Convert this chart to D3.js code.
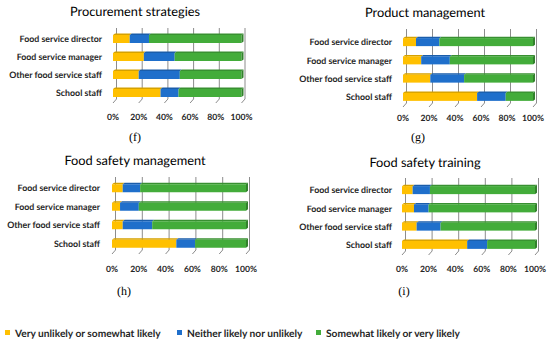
<!DOCTYPE html>
<html><head><meta charset="utf-8">
<script src="https://cdn.jsdelivr.net/npm/d3@7"></script>
<style>
html,body{margin:0;padding:0;background:#fff;}
svg{display:block;text-rendering:geometricPrecision;}
</style></head>
<body>
<svg id="chart" width="550" height="346"></svg>
<script>
const categories = ["Food service director","Food service manager","Other food service staff","School staff"];
const seriesNames = ["Very unlikely or somewhat likely","Neither likely nor unlikely","Somewhat likely or very likely"];
const seriesColors = ["#FFC000","#1F6FCB","#43AC3A"];
const ticks = [0,20,40,60,80,100];
const tickLabels = ["0%","20%","40%","60%","80%","100%"];

const procurementUnlikely = [13,24,20,37];
const procurementNeither  = [15,24,32,14];
const procurementLikely   = [72,52,48,49];

const productUnlikely = [10,14,21,57];
const productNeither  = [18,22,26,22];
const productLikely   = [72,64,53,21];

const safetyMgmtUnlikely = [8,6,8,48];
const safetyMgmtNeither  = [13,14,22,14];
const safetyMgmtLikely   = [79,80,70,38];

const trainingUnlikely = [8,9,11,49];
const trainingNeither  = [13,11,18,15];
const trainingLikely   = [79,80,71,36];

const panels = [
  {title:"Procurement strategies", tag:"(f)", data:[procurementUnlikely,procurementNeither,procurementLikely],
   x0:113, x1:241.5, rowTop:30, rowBottom:102, gridTop:28, titleX:135, titleY:16, tickY:120, labelX:102, tagX:135, tagY:141},
  {title:"Product management", tag:"(g)", data:[productUnlikely,productNeither,productLikely],
   x0:403, x1:533, rowTop:33, rowBottom:106, gridTop:29, titleX:425, titleY:17, tickY:121, labelX:392, tagX:418, tagY:141},
  {title:"Food safety management", tag:"(h)", data:[safetyMgmtUnlikely,safetyMgmtNeither,safetyMgmtLikely],
   x0:112, x1:246, rowTop:179, rowBottom:253, gridTop:177, titleX:135, titleY:165, tickY:272, labelX:100, tagX:124, tagY:295},
  {title:"Food safety training", tag:"(i)", data:[trainingUnlikely,trainingNeither,trainingLikely],
   x0:402, x1:535, rowTop:181, rowBottom:254, gridTop:178, titleX:425, titleY:167, tickY:272, labelX:392, tagX:404, tagY:295}
];

const svg = d3.select("#chart");
const dx = 3.5, dy = -4;
const barH = 8;
const sans = "Lato, 'Open Sans', sans-serif";

function fitSize(str, weight, target) {
  const t = svg.append("text").attr("font-family",sans).attr("font-weight",weight).text(str);
  let best = 10, bestErr = Infinity;
  for (let s = 7; s <= 16; s += 0.1) {
    t.attr("font-size", s + "px");
    const w = t.node().getBBox().width;
    const e = Math.abs(w - target);
    if (e < bestErr) { bestErr = e; best = s; }
  }
  t.remove();
  return best;
}
const catSize = fitSize("Other food service staff","bold",93);
const tickSize = fitSize("100%","bold",22);
const legSize = fitSize("Very unlikely or somewhat likely","bold",147);
const titleSize = fitSize("Procurement strategies","normal",130);

panels.forEach(p => {
  const g = svg.append("g");
  const x = d3.scaleLinear().domain([0,100]).range([p.x0,p.x1]);
  const y = d3.scalePoint().domain(categories).range([p.rowTop,p.rowBottom]).padding(0.5);
  const floorY = p.rowBottom + 1;

  g.selectAll("path.grid").data(ticks).enter().append("path")
    .attr("d", v => `M${x(v)+dx},${p.gridTop} L${x(v)+dx},${floorY+dy} L${x(v)},${floorY}`)
    .attr("fill","none").attr("stroke","#8c8c8c").attr("stroke-width",1);

  categories.forEach((c,i) => {
    let acc = 0;
    p.data.forEach((arr,s) => {
      const v = arr[i];
      const xs = x(acc), xe = x(acc+v);
      const yc = y(c);
      const col = d3.color(seriesColors[s]);
      g.append("path")
        .attr("d", `M${xs},${yc-barH/2} L${xs+2},${yc-barH/2-1.5} L${xe+2},${yc-barH/2-1.5} L${xe},${yc-barH/2} Z`)
        .attr("fill", col.darker(0.5));
      g.append("rect").attr("x",xs).attr("y",yc-barH/2).attr("width",xe-xs).attr("height",barH)
        .attr("fill", seriesColors[s]);
      if (s === p.data.length-1) {
        g.append("path")
          .attr("d", `M${xe},${yc-barH/2} L${xe+2},${yc-barH/2-1.5} L${xe+2},${yc+barH/2-1.5} L${xe},${yc+barH/2} Z`)
          .attr("fill", col.darker(0.8));
      }
      acc += v;
    });
  });

  g.selectAll("text.cat").data(categories).enter().append("text")
    .attr("x", p.labelX).attr("y", d => y(d)+3.2)
    .attr("text-anchor","end")
    .attr("font-family",sans).attr("font-weight","bold").attr("font-size",catSize+"px")
    .attr("fill","#262626").text(d => d);

  g.selectAll("text.tick").data(ticks).enter().append("text")
    .attr("x", v => x(v)).attr("y", p.tickY)
    .attr("text-anchor","middle")
    .attr("font-family",sans).attr("font-weight","bold").attr("font-size",tickSize+"px")
    .attr("fill","#262626").text((v,i) => tickLabels[i]);

  g.append("text").attr("x",p.titleX).attr("y",p.titleY).attr("text-anchor","middle")
    .attr("font-family",sans).attr("font-size",titleSize+"px").attr("fill","#000")
    .text(p.title);

  g.append("text").attr("x",p.tagX).attr("y",p.tagY).attr("text-anchor","middle")
    .attr("font-family","'Liberation Serif', 'Times New Roman', serif").attr("font-size","12px").attr("fill","#000")
    .text(p.tag);
});

const legendX = [5, 177, 316];
const lg = svg.append("g");
seriesNames.forEach((n,i) => {
  lg.append("rect").attr("x",legendX[i]).attr("y",330).attr("width",5).attr("height",5).attr("fill",seriesColors[i]);
  lg.append("text").attr("x",legendX[i]+10).attr("y",336.5)
    .attr("font-family",sans).attr("font-weight","bold").attr("font-size",legSize+"px")
    .attr("fill","#262626").text(n);
});
</script>
</body></html>
